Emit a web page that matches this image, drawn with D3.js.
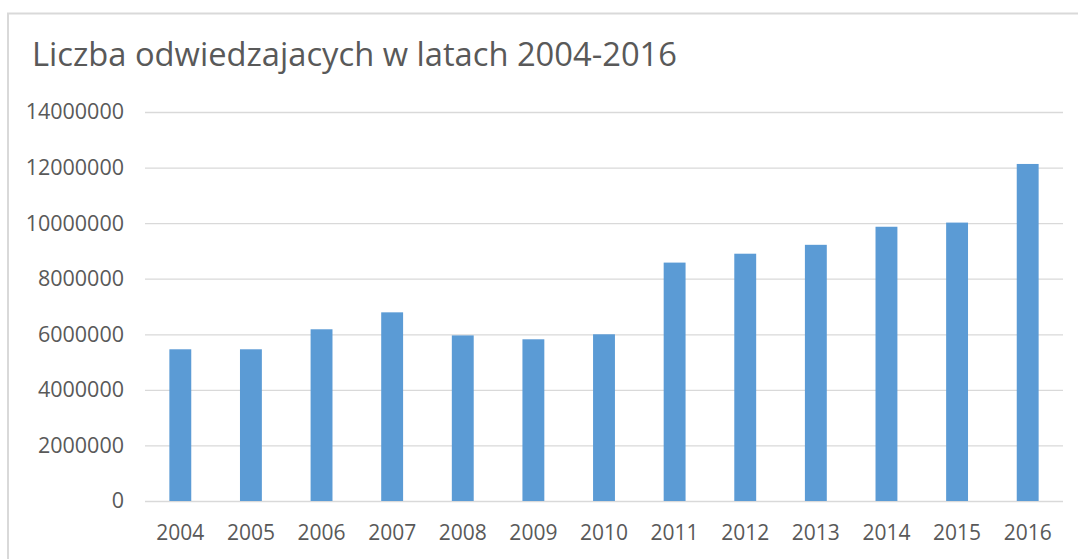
<!DOCTYPE html>
<html><head><meta charset="utf-8">
<script src="https://cdn.jsdelivr.net/npm/d3@7"></script>
<style>body{margin:0;background:#fff}svg{display:block}</style>
</head><body>
<svg id="c" width="1078" height="559"></svg>
<script>
const titleText = "Liczba odwiedzajacych w latach 2004-2016";
const years = ["2004","2005","2006","2007","2008","2009","2010","2011","2012","2013","2014","2015","2016"];
const visitors = [5460000,5460000,6180000,6790000,5960000,5820000,6000000,8580000,8900000,9220000,9870000,10020000,12130000];
const yTicks = [0,2000000,4000000,6000000,8000000,10000000,12000000,14000000];

const svg = d3.select("#c");
const font = "'Open Sans', 'Noto Sans', sans-serif";
const textColor = "#595959";

// frame
svg.append("rect").attr("x",8).attr("y",13.5).attr("width",1090).attr("height",560)
  .attr("fill","#fff").attr("stroke","#d9d9d9").attr("stroke-width",2);

const m = {left:145, right:1063, top:112, bottom:501};
const x = d3.scaleBand().domain(years).range([m.left,m.right]).paddingInner(0.69).paddingOuter(0.345);
const y = d3.scaleLinear().domain([0,14000000]).range([m.bottom,m.top]);

svg.append("text").attr("x",32).attr("y",66).attr("font-family",font).attr("font-size",32.7)
  .attr("fill",textColor).text(titleText);

const ya = svg.append("g").attr("transform",`translate(${m.left},0)`)
  .call(d3.axisLeft(y).tickValues(yTicks).tickFormat(d3.format("d")).tickSize(-(m.right-m.left)).tickPadding(21));
ya.select(".domain").remove();
ya.selectAll(".tick line").attr("stroke","#d9d9d9").attr("stroke-width",1.3);
ya.selectAll(".tick text").attr("font-family",font).attr("font-size",21.5).attr("fill",textColor);

svg.append("g").selectAll("rect").data(years).join("rect")
  .attr("x",d=>x(d)).attr("width",x.bandwidth())
  .attr("y",(d,i)=>y(visitors[i])).attr("height",(d,i)=>y(0)-y(visitors[i]))
  .attr("fill","#5b9bd5");

const xa = svg.append("g").attr("transform",`translate(0,${m.bottom})`)
  .call(d3.axisBottom(x).tickSize(0).tickPadding(24));
xa.select(".domain").remove();
xa.selectAll(".tick text").attr("font-family",font).attr("font-size",21).attr("fill",textColor);
</script>
</body></html>
